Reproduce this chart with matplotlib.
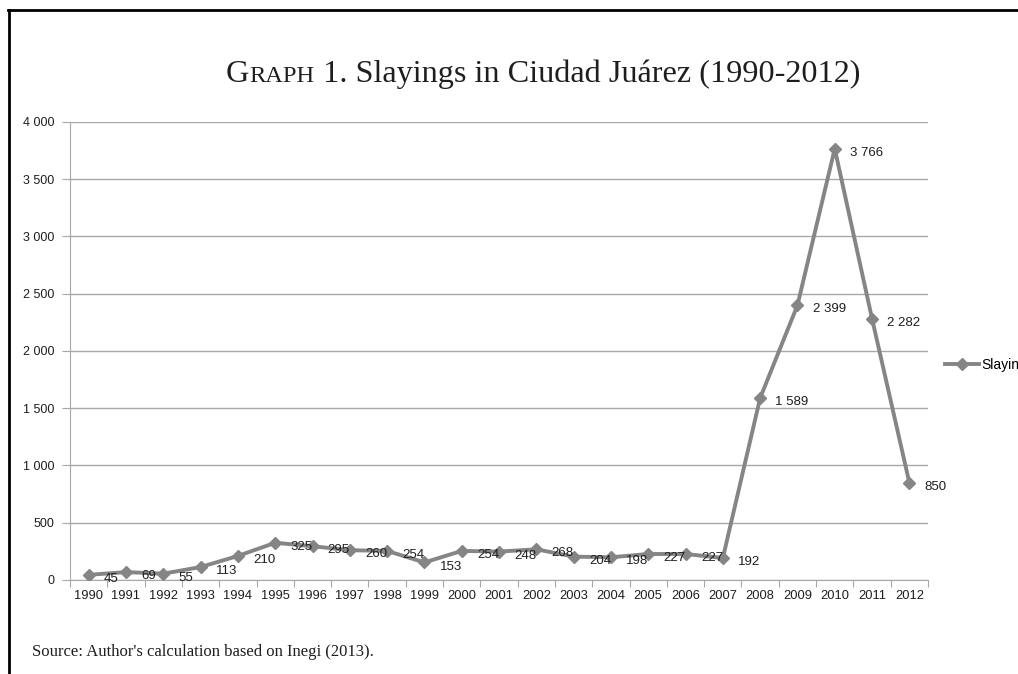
import numpy as np
import matplotlib
matplotlib.use("Agg")
import matplotlib.pyplot as plt
from matplotlib.lines import Line2D
from matplotlib.ticker import FuncFormatter

# data
years = ['1990', '1991', '1992', '1993', '1994', '1995', '1996', '1997',
         '1998', '1999', '2000', '2001', '2002', '2003', '2004', '2005',
         '2006', '2007', '2008', '2009', '2010', '2011', '2012']
slayings = [45, 69, 55, 113, 210, 325, 295, 260, 254, 153, 254, 248,
            268, 204, 198, 227, 227, 192, 1589, 2399, 3766, 2282, 850]
yticks = [0, 500, 1000, 1500, 2000, 2500, 3000, 3500, 4000]

line_col = '#858585'
grid_col = '#a8a8a8'
txt_col = '#1e1e1e'


def thousands(v):
    # "3 766" style with a space as separator
    return '{:,}'.format(int(v)).replace(',', ' ')


fig = plt.figure(figsize=(10.18, 6.74), dpi=100)
ax = fig.add_axes([0.0688, 0.1395, 0.8428, 0.6795])

x = np.arange(len(years))
ax.plot(x, slayings, color=line_col, lw=2.8, marker='D', ms=6,
        mec=line_col, mfc=line_col, label='Slayings', zorder=3)

for xi, v in zip(x, slayings):
    ax.annotate(thousands(v), (xi, v), xytext=(11, -3),
                textcoords='offset points', ha='left', va='center',
                fontsize=9.5, family='Liberation Sans', color=txt_col)

ax.set_xlim(-0.5, len(years) - 0.5)
ax.set_ylim(0, 4000)
ax.set_yticks(yticks)
ax.yaxis.set_major_formatter(FuncFormatter(lambda v, p: thousands(v)))
ax.yaxis.grid(True, color=grid_col, lw=1)
ax.set_axisbelow(True)

# category axis: tick marks between categories, labels in the middle
ax.set_xticks(np.arange(-0.5, len(years), 1.0))
ax.set_xticklabels([])
ax.set_xticks(x, minor=True)
ax.set_xticklabels(years, minor=True)
ax.tick_params(axis='x', which='major', length=5, color=grid_col, direction='out')
ax.tick_params(axis='x', which='minor', length=0, pad=7, labelsize=9.3, labelcolor=txt_col)
ax.tick_params(axis='y', length=6, color=grid_col, labelsize=9, labelcolor=txt_col, pad=5.5)
for lab in ax.get_xticklabels(minor=True) + ax.get_yticklabels():
    lab.set_family('Liberation Sans')

for s in ['top', 'right']:
    ax.spines[s].set_visible(False)
ax.spines['left'].set_color(grid_col)
ax.spines['bottom'].set_color(grid_col)

leg = ax.legend(loc='center left', bbox_to_anchor=(1.0, 0.47), frameon=False,
                handlelength=2.5, handletextpad=0.15, borderaxespad=0.8,
                prop={'family': 'Liberation Sans', 'size': 10})

# title in small caps style: pieces placed on one baseline
renderer = fig.canvas.get_renderer()
pieces = [('G', 23.2), ('RAPH', 17.6), (' 1. Slayings in Ciudad Juárez (1990-2012)', 23.2)]
y_base = 1 - 82 / 674.
texts = []
xpos = 0
for s, fs in pieces:
    t = fig.text(xpos, y_base, s, fontsize=fs, family='Liberation Serif',
                 va='baseline', ha='left', color=txt_col)
    ext = t.get_window_extent(renderer)
    xpos += ext.width / fig.bbox.width
    texts.append(t)
start = 543 / 1018. - xpos / 2
for t in texts:
    t.set_x(t.get_position()[0] + start)

fig.text(32 / 1018., 1 - 656 / 674., "Source: Author's calculation based on Inegi (2013).",
         fontsize=12, family='Liberation Serif', va='baseline', color=txt_col)

# page frame
fig.add_artist(Line2D([8 / 1018., 1.0], [1 - 10 / 674.] * 2, color='black', lw=2))
fig.add_artist(Line2D([9 / 1018.] * 2, [0, 1 - 10 / 674.], color='black', lw=2))

fig.savefig('out.png', dpi=100)
